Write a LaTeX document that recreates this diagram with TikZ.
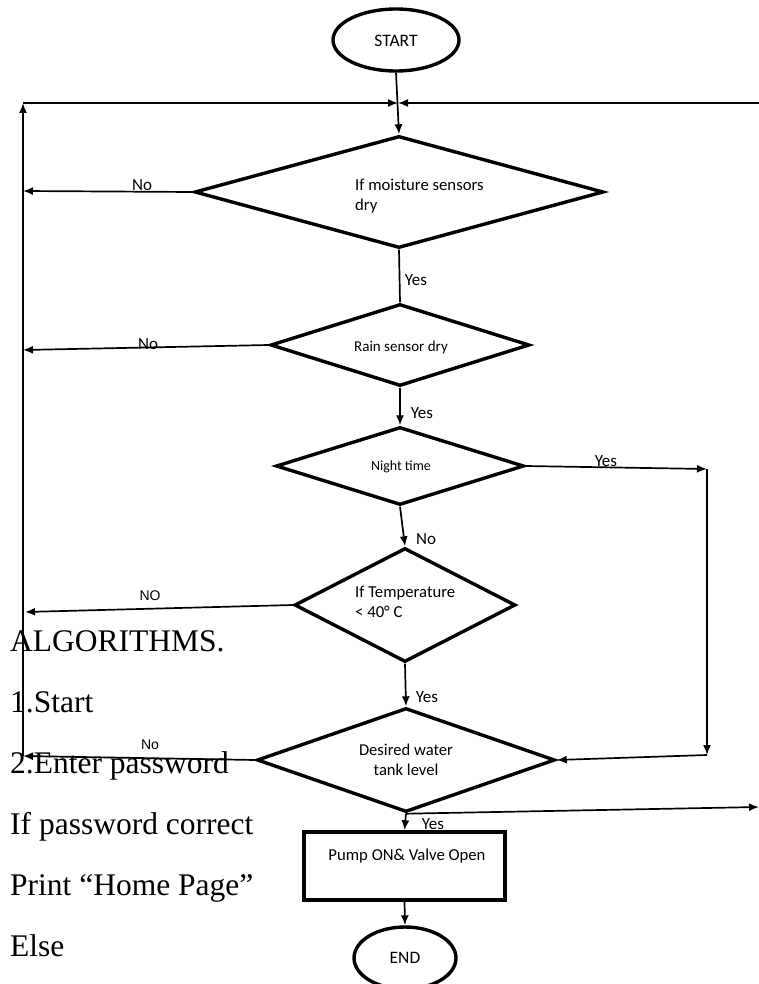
\documentclass[tikz,border=0pt]{standalone}
\usepackage{fontspec}
\setmainfont{Liberation Serif}
\newfontfamily\calfont{Carlito}
\newfontfamily\arlfont{Liberation Sans}
\usetikzlibrary{shapes.geometric,arrows.meta}
\begin{document}
\begin{tikzpicture}[x=1pt,y=-1pt,
  shapeline/.style={draw=black,line width=3.4pt},
  dia/.style={shapeline,diamond,inner sep=0pt,aspect=1},
  oval/.style={shapeline,ellipse,inner sep=0pt},
  conn/.style={draw=black,line width=1.7pt},
  arr/.style={conn,-{Latex[length=10pt,width=8pt]}},
  boxtxt/.style={font=\calfont\fontsize{16.7}{20.5}\selectfont,inner sep=0pt},
  lbl/.style={font=\calfont\fontsize{17}{20}\selectfont,inner sep=0pt},
  lbla/.style={font=\arlfont\fontsize{14}{17}\selectfont,inner sep=0pt},
  algo/.style={font=\fontsize{31.5}{36}\selectfont,inner sep=0pt,anchor=base west}
]
\useasboundingbox (0,0) rectangle (759,984);
\fill[white] (0,0) rectangle (759,984);

% shapes
\node[oval,minimum width=126pt,minimum height=62pt] (start) at (396,40) {};
\node[lbl,font=\calfont\fontsize{17.5}{20}\selectfont] (starttxt) at (396,41) {START};
\node[dia,minimum width=409pt,minimum height=112pt] (d1) at (399,192) {};
\node[dia,minimum width=259pt,minimum height=82pt] (d2) at (400,345) {};
\node[dia,minimum width=248pt,minimum height=78pt] (d3) at (400,466) {};
\node[dia,minimum width=221pt,minimum height=114pt] (d4) at (405,605) {};
\node[dia,minimum width=298pt,minimum height=104pt] (d5) at (406,760) {};
\node[shapeline,rectangle,minimum width=201pt,minimum height=68pt,inner sep=0pt] (pump) at (404.5,866) {};
\node[oval,minimum width=102pt,minimum height=62pt] (end) at (405,958) {};
\node[lbl,font=\calfont\fontsize{17.5}{20}\selectfont] (endtxt) at (405,958) {END};

% texts in shapes
\node[boxtxt,anchor=west,align=left] (t1) at (355,196) {If moisture sensors\\dry};
\node[boxtxt,font=\calfont\fontsize{15}{18}\selectfont] (t2) at (401,347) {Rain sensor dry};
\node[boxtxt,font=\calfont\fontsize{14}{17}\selectfont] (t3) at (401,467) {Night time};
\node[boxtxt,anchor=west,align=left] (t4) at (355,602) {If Temperature\\< 40° C};
\node[boxtxt,align=center,font=\calfont\fontsize{16.6}{20}\selectfont] (t5) at (406,760) {Desired water\\tank level};
\node[boxtxt] (t6) at (407,856) {Pump ON\& Valve Open};

% junction coordinates
\coordinate (topmid) at (398,103);
\coordinate (topleft) at (23,103);
\coordinate (topright) at (759,103);
\coordinate (l1) at (23,191);
\coordinate (l2) at (23,350);
\coordinate (l4) at (25,612);
\coordinate (l5) at (23,756);
\coordinate (r3) at (707,469);
\coordinate (r5) at (707,755);
\coordinate (rout) at (759,807);

% main flow
\draw[arr] (start.south) -- (d1.north);
\draw[conn] (d1.south) -- (d2.north);
\draw[arr] (d2.south) -- (d3.north);
\draw[arr] (d3.south) -- (d4.north);
\draw[arr] (d4.south) -- (d5.north);
\draw[arr] (d5.south) -- (pump.north);
\draw[arr] (pump.south) -- (end.north);

% No branches to the left
\draw[arr] (d1.west) -- (l1);
\draw[arr] (d2.west) -- (l2);
\draw[arr] (d4.west) -- (l4);
\draw[arr] (d5.west) -- (l5);
\draw[arr] (l5) -- (topleft);
\draw[arr] (topleft) -- (topmid);
\draw[arr] (topright) -- (topmid);

% Night time yes branch
\draw[arr] (d3.east) -- (r3);
\draw[arr] (r3) -- (r5);
\draw[arr] (r5) -- (d5.east);

% water level branch to the right
\draw[arr] (d5.south) -- (rout);

% labels
\node[lbl] (n1) at (142,185) {No};
\node[lbl] (y1) at (416,280) {Yes};
\node[lbl] (n2) at (148,344) {No};
\node[lbl] (y2) at (422,413) {Yes};
\node[lbl] (y3) at (606,461) {Yes};
\node[lbl] (n3) at (426,539) {No};
\node[lbla] (n4) at (150,596) {NO};
\node[lbl] (y4) at (427,697) {Yes};
\node[lbla] (n5) at (150,745) {No};
\node[lbl] (y5) at (433,824) {Yes};

% algorithm text
\node[algo] (a0) at (10,651) {ALGORITHMS.};
\node[algo] (a1) at (10,712) {1.Start};
\node[algo] (a2) at (10,773) {2.Enter password};
\node[algo] (a3) at (10,834) {If password correct};
\node[algo] (a4) at (10,895) {Print “Home Page”};
\node[algo] (a5) at (10,956) {Else};
\end{tikzpicture}
\end{document}
